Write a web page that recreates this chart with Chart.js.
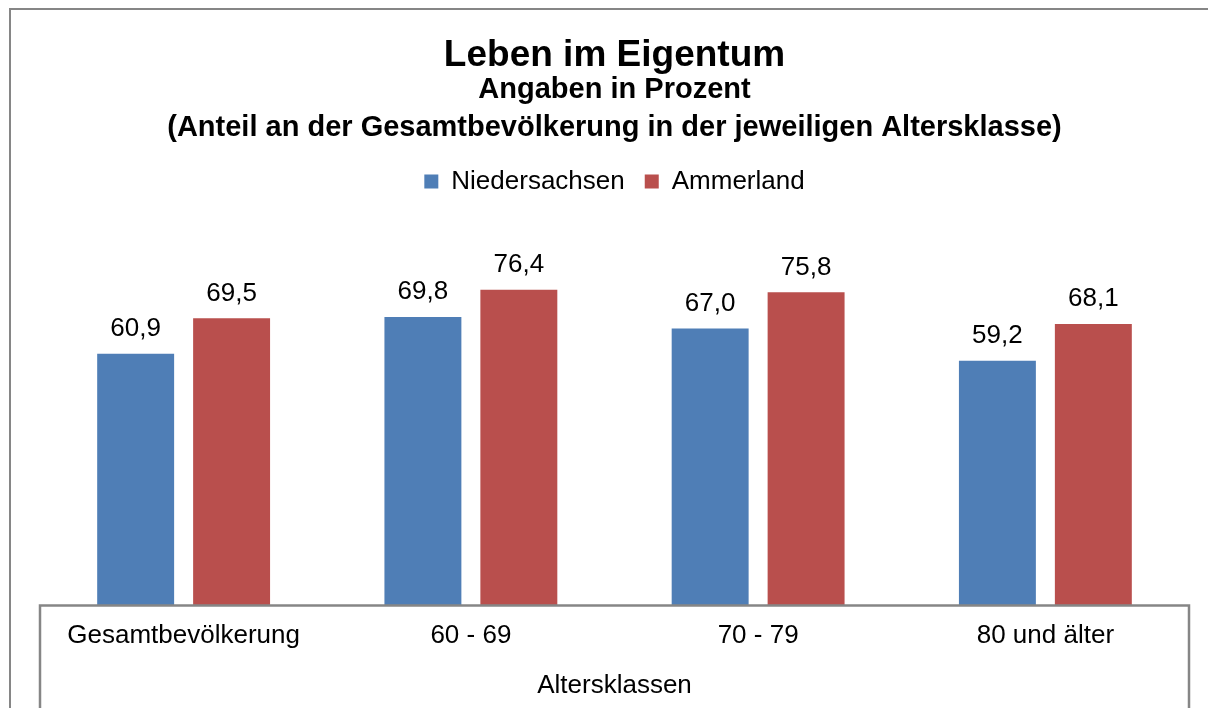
<!DOCTYPE html>
<html>
<head>
<meta charset="utf-8">
<script src="https://cdn.jsdelivr.net/npm/chart.js@4"></script>
<style>
  body { margin: 0; background: #fff; }
  #wrap { width: 1208px; height: 708px; position: relative; }
</style>
</head>
<body>
<div id="wrap"><canvas id="chart"></canvas></div>
<script>
const categories = ['Gesamtbevölkerung', '60 - 69', '70 - 79', '80 und älter'];
const seriesNames = ['Niedersachsen', 'Ammerland'];
const niedersachsen = [60.9, 69.8, 67.0, 59.2];
const ammerland = [69.5, 76.4, 75.8, 68.1];

Chart.defaults.font.family = "'Liberation Sans', Arial, sans-serif";
Chart.defaults.color = '#000';

// frame lines like the excel chart
const frame = {
    id: 'frame',
    beforeInit(chart) {
        const fit = chart.legend.fit;
        chart.legend.fit = function () {
            fit.call(this);
            this.height += 29;
        };
    },
    beforeDraw(chart) {
        const c = chart.ctx;
        c.save();
        c.strokeStyle = '#868686';
        c.lineWidth = 2;
        c.beginPath();
        c.moveTo(10, chart.height);
        c.lineTo(10, 9);
        c.lineTo(chart.width, 9);
        c.stroke();
        c.restore();
    },
    afterDatasetsDraw(chart) {
        const c = chart.ctx;
        const a = chart.chartArea;
        c.save();
        c.strokeStyle = '#868686';
        c.lineWidth = 2.5;
        c.beginPath();
        c.moveTo(a.left, chart.height);
        c.lineTo(a.left, a.bottom);
        c.lineTo(a.right, a.bottom);
        c.lineTo(a.right, chart.height);
        c.stroke();

        c.fillStyle = '#000';
        c.font = "26px 'Liberation Sans', Arial, sans-serif";
        c.textAlign = 'center';
        c.textBaseline = 'alphabetic';
        chart.data.datasets.forEach((ds, i) => {
            chart.getDatasetMeta(i).data.forEach((bar, j) => {
                c.fillText(ds.data[j].toFixed(1).replace('.', ','), bar.x, bar.y - 17.5);
            });
        });
        c.restore();
    }
};

new Chart(document.getElementById('chart'), {
    type: 'bar',
    data: {
        labels: categories,
        datasets: [
            { label: seriesNames[0], data: niedersachsen, backgroundColor: '#4F7EB6' },
            { label: seriesNames[1], data: ammerland, backgroundColor: '#B94F4D' }
        ]
    },
    options: {
        responsive: true,
        maintainAspectRatio: false,
        animation: false,
        categoryPercentage: 0.668,
        barPercentage: 0.802,
        layout: { padding: { left: 40, right: 19, top: 0, bottom: 0 } },
        plugins: {
            title: {
                display: true,
                text: 'Leben im Eigentum',
                font: { size: 37, weight: 'bold', lineHeight: 0.85 },
                padding: { top: 40, bottom: 0 }
            },
            subtitle: {
                display: true,
                text: ['Angaben in Prozent', '(Anteil an der Gesamtbevölkerung in der jeweiligen Altersklasse)'],
                color: '#000',
                font: { size: 29, weight: 'bold', lineHeight: 1.31 },
                padding: { top: 0, bottom: 1 }
            },
            legend: {
                position: 'top',
                labels: { boxWidth: 14, boxHeight: 14, padding: 20, font: { size: 26 } }
            },
            tooltip: { enabled: false }
        },
        scales: {
            x: {
                grid: { display: false, drawTicks: false },
                border: { display: false },
                ticks: { font: { size: 26 }, padding: 15 },
                title: { display: true, text: 'Altersklassen', font: { size: 26 }, padding: { top: 0, bottom: 6.4 } },
                afterFit(scale) { scale.height = 102.5; }
            },
            y: {
                display: false,
                min: 0,
                max: 90
            }
        }
    },
    plugins: [frame]
});
</script>
</body>
</html>
